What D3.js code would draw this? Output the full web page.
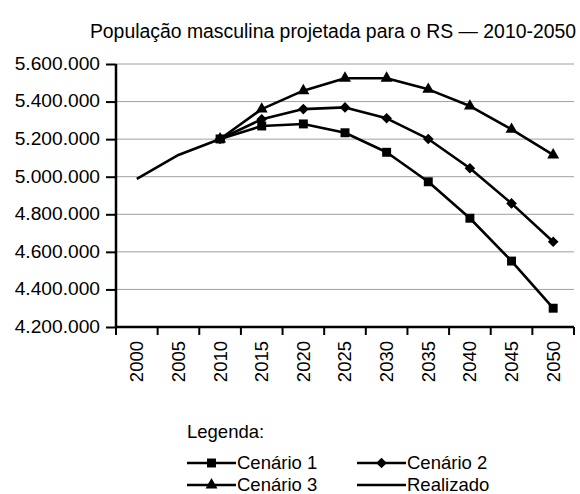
<!DOCTYPE html>
<html>
<head>
<meta charset="utf-8">
<script src="https://cdn.jsdelivr.net/npm/d3@7"></script>
<style>
    body { margin: 0; background: #fff; }
    svg text { font-family: "Liberation Sans", Arial, sans-serif; fill: #000; font-size: 18.5px; }
</style>
</head>
<body>
<div id="chart"></div>
<script>
const years = [2000, 2005, 2010, 2015, 2020, 2025, 2030, 2035, 2040, 2045, 2050];
const yTicks = [4200000, 4400000, 4600000, 4800000, 5000000, 5200000, 5400000, 5600000];

// null where a series has no value
const realizado = [4988000, 5116000, 5201000, null, null, null, null, null, null, null, null];
const cenario1 = [null, null, 5201000, 5270000, 5281000, 5234000, 5130000, 4973000, 4779000, 4551000, 4300000];
const cenario2 = [null, null, 5201000, 5306000, 5360000, 5369000, 5311000, 5201000, 5045000, 4858000, 4654000];
const cenario3 = [null, null, 5201000, 5360000, 5458000, 5524000, 5524000, 5465000, 5376000, 5252000, 5116000];

const series = [
    { name: "Cenário 1", values: cenario1, symbol: d3.symbolSquare, size: 80 },
    { name: "Cenário 2", values: cenario2, symbol: d3.symbolDiamond2, size: 72 },
    { name: "Cenário 3", values: cenario3, symbol: d3.symbolTriangle, size: 62 },
    { name: "Realizado", values: realizado, symbol: null, size: 0 }
];

const width = 580, height = 494;
const margin = { top: 64, right: 6, bottom: 167, left: 116 };
const innerW = width - margin.left - margin.right;
const innerH = height - margin.top - margin.bottom;

const svg = d3.select("#chart")
    .append("svg")
    .attr("width", width)
    .attr("height", height);

svg.append("text")
    .attr("x", 333)
    .attr("y", 38)
    .style("text-anchor", "middle")
    .style("font-size", "19.4px")
    .text("População masculina projetada para o RS — 2010-2050");

const g = svg.append("g")
    .attr("transform", `translate(${margin.left}, ${margin.top})`);

const x = d3.scaleBand()
    .domain(years)
    .range([0, innerW])
    .padding(0);

const y = d3.scaleLinear()
    .domain([4200000, 5600000])
    .range([innerH, 0]);

const fmt = v => d3.format(",")(v).replace(/,/g, ".");

// gridlines
g.append("g")
    .selectAll("line")
    .data(yTicks.slice(1))
    .join("line")
    .attr("x1", 0)
    .attr("x2", innerW)
    .attr("y1", d => y(d))
    .attr("y2", d => y(d))
    .attr("stroke", "#a0a0a0")
    .attr("stroke-width", 1);

const yAxis = g.append("g")
    .call(d3.axisLeft(y).tickValues(yTicks).tickFormat(fmt).tickSize(10).tickPadding(6))
    .attr("font-size", null)
    .attr("font-family", null);
yAxis.selectAll("text").style("font-size", "19.2px").attr("dy", "0.28em");
yAxis.selectAll("line").attr("stroke-width", 2);
yAxis.select(".domain").attr("stroke-width", 2.5).attr("d", `M0,${innerH}V0`);

const xAxis = g.append("g")
    .attr("transform", `translate(0, ${innerH})`)
    .call(d3.axisBottom(x).tickSize(0).tickPadding(0))
    .attr("font-size", null)
    .attr("font-family", null);
xAxis.select(".domain").attr("stroke-width", 2.5).attr("d", `M0,0H${innerW}`);
xAxis.selectAll(".tick text")
    .style("text-anchor", "end")
    .attr("transform", "rotate(-90)")
    .attr("x", -14)
    .attr("y", 0)
    .attr("dy", "0.35em");

// category boundary ticks
xAxis.selectAll(".boundary")
    .data(d3.range(years.length + 1))
    .join("line")
    .attr("class", "boundary")
    .attr("x1", i => i * x.step())
    .attr("x2", i => i * x.step())
    .attr("y1", 0)
    .attr("y2", 8)
    .attr("stroke", "#000")
    .attr("stroke-width", 2);

const cx = i => x(years[i]) + x.bandwidth() / 2;

const line = d3.line()
    .defined(d => d != null)
    .x((d, i) => cx(i))
    .y(d => y(d));

series.forEach(s => {
    g.append("path")
        .attr("d", line(s.values))
        .attr("fill", "none")
        .attr("stroke", "#000")
        .attr("stroke-width", 2.6)
        .attr("stroke-linejoin", "round");
    if (s.symbol) {
        g.selectAll(null)
            .data(s.values.map((v, i) => ({ v, i })).filter(d => d.v != null))
            .join("path")
            .attr("d", d3.symbol().type(s.symbol).size(s.size))
            .attr("transform", d => `translate(${cx(d.i)}, ${y(d.v)})`)
            .attr("fill", "#000");
    }
});

// legend
const legend = svg.append("g");
legend.append("text")
    .attr("x", 187)
    .attr("y", 438)
    .text("Legenda:");

const legendPos = [[187, 463], [357, 463], [187, 485], [357, 485]];
series.forEach((s, i) => {
    const [lx, ly] = legendPos[i];
    const item = legend.append("g").attr("transform", `translate(${lx}, ${ly})`);
    item.append("line")
        .attr("x1", 0).attr("x2", 49)
        .attr("y1", 0).attr("y2", 0)
        .attr("stroke", "#000")
        .attr("stroke-width", 2.6);
    if (s.symbol) {
        item.append("path")
            .attr("d", d3.symbol().type(s.symbol).size(s.size))
            .attr("transform", "translate(24.5, 0)")
            .attr("fill", "#000");
    }
    item.append("text")
        .attr("x", 50)
        .attr("y", 0)
        .attr("dy", "0.3em")
        .text(s.name);
});
</script>
</body>
</html>
